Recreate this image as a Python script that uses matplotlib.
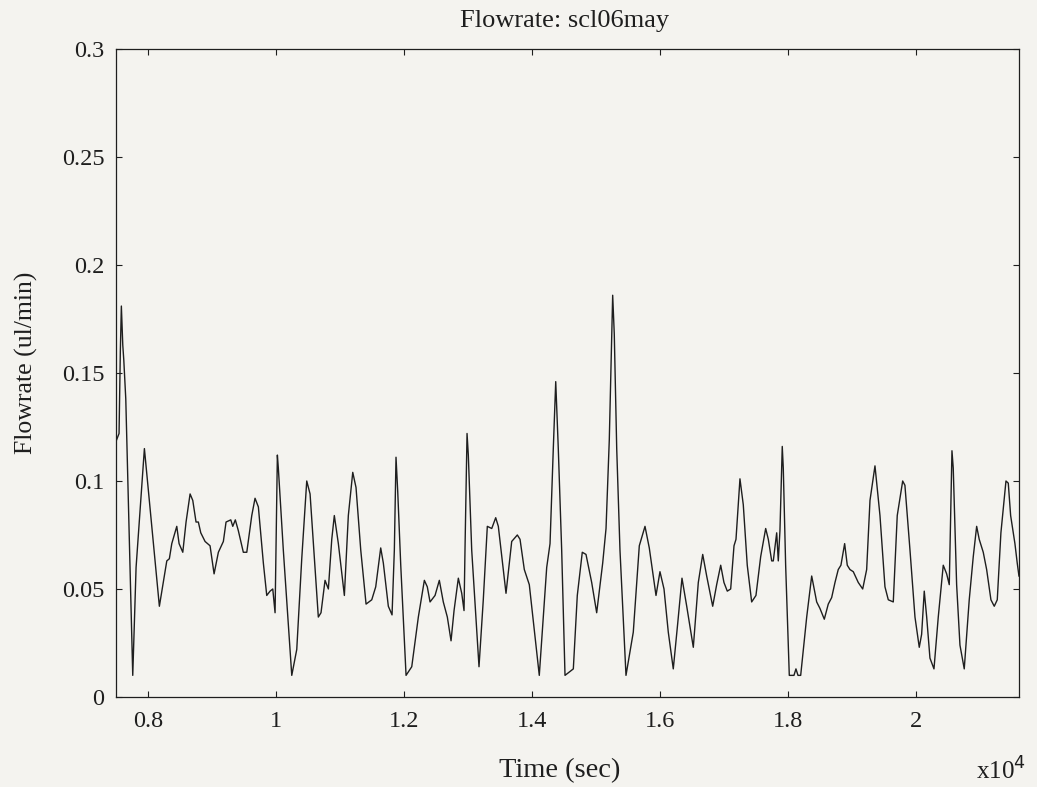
import matplotlib
matplotlib.use("Agg")
import matplotlib.pyplot as plt

tiempo = [7490, 7542, 7562, 7578, 7600, 7616, 7647, 7756, 7808, 7938,
          8172, 8288, 8328, 8366, 8444, 8480, 8538, 8589, 8652, 8694,
          8745, 8781, 8819, 8886, 8964, 9027, 9094, 9172, 9214, 9288,
          9319, 9359, 9406, 9484, 9538, 9616, 9667, 9719, 9797, 9850,
          9902, 9944, 9980, 10016, 10031, 10109, 10241, 10319, 10397, 10475,
          10527, 10656, 10698, 10761, 10813, 10866, 10906, 10969, 11063, 11125,
          11194, 11245, 11319, 11402, 11491, 11553, 11631, 11672, 11750, 11808,
          11844, 11870, 11897, 11944, 12027, 12116, 12219, 12313, 12359, 12402,
          12480, 12547, 12609, 12672, 12730, 12777, 12844, 12897, 12933, 12948,
          12980, 13000, 13053, 13167, 13234, 13297, 13366, 13428, 13469, 13547,
          13589, 13678, 13766, 13808, 13875, 13953, 14109, 14225, 14277, 14328,
          14366, 14406, 14459, 14511, 14641, 14703, 14781, 14839, 14928, 15006,
          15100, 15152, 15203, 15256, 15281, 15319, 15370, 15464, 15578, 15672,
          15761, 15828, 15933, 15995, 16058, 16125, 16203, 16272, 16339, 16413,
          16516, 16594, 16663, 16725, 16819, 16881, 16944, 16995, 17047, 17100,
          17152, 17183, 17245, 17297, 17359, 17428, 17495, 17569, 17647, 17688,
          17741, 17766, 17819, 17844, 17870, 17906, 17922, 17959, 18016, 18089,
          18120, 18152, 18194, 18288, 18366, 18444, 18495, 18563, 18625, 18678,
          18730, 18781, 18823, 18881, 18922, 18964, 19016, 19094, 19163, 19225,
          19277, 19355, 19433, 19511, 19563, 19641, 19703, 19788, 19823, 19902,
          19980, 20047, 20084, 20125, 20163, 20214, 20277, 20344, 20422, 20475,
          20516, 20542, 20558, 20578, 20631, 20683, 20750, 20828, 20891, 20944,
          20984, 21047, 21100, 21167, 21219, 21266, 21323, 21402, 21438, 21475,
          21542, 21578, 21605]
caudal = [0.118, 0.122, 0.160, 0.181, 0.163, 0.156, 0.138, 0.010, 0.060, 0.115,
          0.042, 0.063, 0.064, 0.071, 0.079, 0.071, 0.067, 0.081, 0.094, 0.091,
          0.081, 0.081, 0.076, 0.072, 0.070, 0.057, 0.067, 0.072, 0.081, 0.082,
          0.079, 0.082, 0.077, 0.067, 0.067, 0.084, 0.092, 0.088, 0.062, 0.047,
          0.049, 0.050, 0.039, 0.112, 0.106, 0.068, 0.010, 0.022, 0.064, 0.100,
          0.094, 0.037, 0.039, 0.054, 0.050, 0.073, 0.084, 0.071, 0.047, 0.084,
          0.104, 0.097, 0.068, 0.043, 0.045, 0.051, 0.069, 0.062, 0.042, 0.038,
          0.068, 0.111, 0.095, 0.061, 0.010, 0.014, 0.037, 0.054, 0.051, 0.044,
          0.047, 0.054, 0.044, 0.037, 0.026, 0.040, 0.055, 0.048, 0.040, 0.068,
          0.122, 0.112, 0.068, 0.014, 0.045, 0.079, 0.078, 0.083, 0.079, 0.059,
          0.048, 0.072, 0.075, 0.073, 0.059, 0.052, 0.010, 0.060, 0.071, 0.115,
          0.146, 0.115, 0.068, 0.010, 0.013, 0.047, 0.067, 0.066, 0.053, 0.039,
          0.062, 0.078, 0.119, 0.186, 0.168, 0.115, 0.068, 0.010, 0.030, 0.070,
          0.079, 0.069, 0.047, 0.058, 0.050, 0.030, 0.013, 0.034, 0.055, 0.042,
          0.023, 0.053, 0.066, 0.056, 0.042, 0.052, 0.061, 0.053, 0.049, 0.050,
          0.070, 0.073, 0.101, 0.089, 0.061, 0.044, 0.047, 0.065, 0.078, 0.073,
          0.063, 0.063, 0.076, 0.063, 0.077, 0.116, 0.106, 0.061, 0.010, 0.010,
          0.013, 0.010, 0.010, 0.037, 0.056, 0.044, 0.041, 0.036, 0.043, 0.046,
          0.053, 0.059, 0.061, 0.071, 0.061, 0.059, 0.058, 0.053, 0.050, 0.059,
          0.091, 0.107, 0.084, 0.051, 0.045, 0.044, 0.084, 0.100, 0.098, 0.068,
          0.037, 0.023, 0.029, 0.049, 0.037, 0.018, 0.013, 0.037, 0.061, 0.057,
          0.052, 0.090, 0.114, 0.106, 0.052, 0.024, 0.013, 0.045, 0.065, 0.079,
          0.073, 0.067, 0.059, 0.045, 0.042, 0.045, 0.076, 0.100, 0.099, 0.084,
          0.071, 0.062, 0.056]

xticks = [8000, 10000, 12000, 14000, 16000, 18000, 20000]
xtick_labels = ["0.8", "1", "1.2", "1.4", "1.6", "1.8", "2"]
yticks = [0, 0.05, 0.1, 0.15, 0.2, 0.25, 0.3]
ytick_labels = ["0", "0.05", "0.1", "0.15", "0.2", "0.25", "0.3"]

plt.rcParams['font.family'] = ['Liberation Serif', 'DejaVu Serif']
fondo = "#f4f3ef"
tinta = "#1e1e1e"

fig = plt.figure(figsize=(10.37, 7.87), dpi=100, facecolor=fondo)
ax = fig.add_axes([0.1116, 0.1144, 0.871, 0.8233])
ax.set_facecolor(fondo)

ax.plot(tiempo, caudal, color=tinta, linewidth=1.0, solid_joinstyle="round")

ax.set_xlim(7490, 21605)
ax.set_ylim(0, 0.3)
ax.set_xticks(xticks)
ax.set_xticklabels(xtick_labels)
ax.set_yticks(yticks)
ax.set_yticklabels(ytick_labels)
ax.tick_params(direction="in", length=4, width=0.8, top=True, right=True,
               labelsize=17.5, colors=tinta)
ax.tick_params(axis="x", pad=10)
ax.tick_params(axis="y", pad=8)
for s in ax.spines.values():
    s.set_linewidth(0.9)
    s.set_color(tinta)

ax.set_ylabel("Flowrate (ul/min)", fontsize=18.5, color=tinta)
ax.yaxis.set_label_coords(-0.086, 0.515)

fig.text(565 / 1037, 1 - 21 / 787, "Flowrate: scl06may", ha="center", va="center",
         fontsize=19, color=tinta)
fig.text(560 / 1037, 1 - 771 / 787, "Time (sec)", ha="center", va="center",
         fontsize=20.5, color=tinta)
fig.text(1001 / 1037, 1 - 771 / 787, r"x10$^4$", ha="center", va="center",
         fontsize=18, color=tinta)

plt.savefig("out.png", dpi=100, facecolor=fondo)
